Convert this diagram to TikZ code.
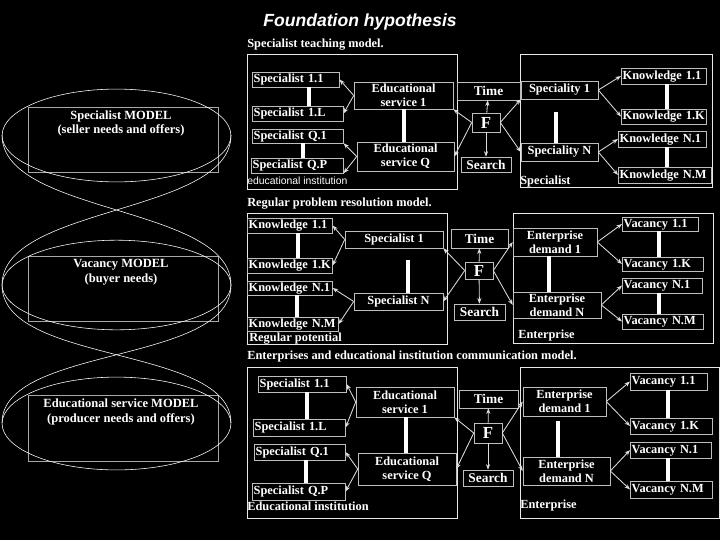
\documentclass[tikz,border=0pt]{standalone}
\usepackage{fontspec}
\setmainfont{Liberation Serif}
\newfontfamily\headfont{Liberation Sans}
\usetikzlibrary{arrows.meta}
\definecolor{boxline}{HTML}{BEBEBE}
\definecolor{frameline}{HTML}{E8E8E8}
\definecolor{modelline}{HTML}{A8A8A8}
\definecolor{arrowline}{HTML}{DDDDDD}

\begin{document}
\begin{tikzpicture}[x=0.025cm,y=-0.025cm,
  every node/.style={text=white},
  txt/.style={font=\fontsize{8.8}{10}\selectfont\bfseries},
  block/.style 2 args={draw=boxline,fill=black,txt,align=center,inner sep=0pt,
    minimum width=#1*0.025cm,minimum height=#2*0.025cm},
  leaf/.style 2 args={draw=boxline,fill=black,txt,anchor=west,align=left,
    inner xsep=1pt,inner ysep=0pt,text width=#1*0.025cm-2pt,
    text height=6.4pt,text depth=1.8pt,minimum height=#2*0.025cm},
  big/.style={font=\fontsize{9.5}{11}\selectfont\bfseries},
  hub/.style={font=\fontsize{12}{13}\selectfont\bfseries},
  head/.style={txt,anchor=west,inner sep=0pt},
  tag/.style={txt,anchor=west,inner sep=0pt},
  model/.style={font=\fontsize{8.9}{10.6}\selectfont\bfseries,align=center},
  link/.style={white,line width=2.5pt},
  arr/.style={arrowline,line width=0.6pt,-{Stealth[length=4pt,width=3pt]}}]

  \path[use as bounding box,fill=black] (0,0) rectangle (720,540);
  \node[font=\headfont\fontsize{12.5}{14}\selectfont\bfseries\itshape] (title) at (360,22) {Foundation hypothesis};

  % left: the three models
  \draw[modelline] (28,107) rectangle (218,172);
  \draw[modelline] (28,256) rectangle (218,321);
  \draw[modelline] (28,395) rectangle (218,461);
  \draw[white] (116.5,135.5) ellipse [x radius=2.86cm,y radius=1.16cm];
  \draw[white] (116.5,285) ellipse [x radius=2.86cm,y radius=1.12cm];
  \draw[white] (116.5,423.5) ellipse [x radius=2.86cm,y radius=1.16cm];
  \draw[white] (2,135) .. controls (2,215) and (231,205) .. (231,285);
  \draw[white] (231,135) .. controls (231,215) and (2,205) .. (2,285);
  \draw[white] (2,285) .. controls (2,365) and (231,345) .. (231,423);
  \draw[white] (231,285) .. controls (231,365) and (2,345) .. (2,423);
  \node[model] (m1) at (121,123.5) {Specialist MODEL\\(seller needs and offers)};
  \node[model] (m2) at (121,272.5) {Vacancy MODEL\\(buyer needs)};
  \node[model] (m3) at (121,412) {Educational service MODEL\\(producer needs and offers)};

  % specialist teaching model
  \node[head] (h1) at (247,45) {Specialist teaching model.};
  \draw[frameline] (247,54) rectangle (457,189);
  \draw[frameline] (520,54) rectangle (712,187);
  \node[leaf={87}{15}] (s11) at (252,79.5) {Specialist 1.1};
  \node[leaf={91}{15}] (s1l) at (252,113.5) {Specialist 1.L};
  \node[leaf={91}{14}] (sq1) at (252,136) {Specialist Q.1};
  \node[leaf={92}{15}] (sqp) at (251,165.5) {Specialist Q.P};
  \node[block={99}{27}] (es1) at (403.5,95.5) {Educational\\service 1};
  \node[block={97}{29}] (esq) at (405.5,156.5) {Educational\\service Q};
  \node[block={63}{18},big] (time1) at (488.5,91) {Time};
  \node[block={28}{19},hub] (f1) at (486,122.5) {F};
  \node[block={50}{15},big] (search1) at (486,164.5) {Search};
  \node[block={77}{18}] (sp1) at (559.5,90) {Speciality 1};
  \node[block={77}{18}] (spn) at (559.5,152) {Speciality N};
  \node[leaf={85}{16}] (k11) at (621,76) {Knowledge 1.1};
  \node[leaf={85}{15}] (k1k) at (621,116.5) {Knowledge 1.K};
  \node[leaf={88}{16}] (kn1) at (618,139) {Knowledge N.1};
  \node[leaf={93}{16}] (knm) at (618,175) {Knowledge N.M};
  \node[anchor=west,inner sep=0pt,font=\headfont\fontsize{7.4}{8}\selectfont] (lab1) at (247,181) {educational institution};
  \node[tag] (lab2) at (520,182) {Specialist};
  \draw[link] (309,0 |- s11.south) -- (309,0 |- s1l.north);
  \draw[link] (303,0 |- sq1.south) -- (303,0 |- sqp.north);
  \draw[link] (404,0 |- es1.south) -- (404,0 |- esq.north);
  \draw[link,shorten <=9pt] (556,0 |- sp1.south) -- (556,0 |- spn.north);
  \draw[link] (667,0 |- k11.south) -- (667,0 |- k1k.north);
  \draw[link] (667,0 |- kn1.south) -- (667,0 |- knm.north);
  \draw[arr] (es1.west) -- (s11.east);
  \draw[arr] (es1.west) -- (s1l.east);
  \draw[arr] (esq.west) -- (sq1.south east);
  \draw[arr] (esq.west) -- (sqp.south east);
  \draw[arr] (f1) -- (time1);
  \draw[arr] (f1) -- (search1);
  \draw[arr] (f1.west) -- (es1.south east);
  \draw[arr] (f1.west) -- (esq.east);
  \draw[arr] (f1.east) -- (sp1.south west);
  \draw[arr] (f1.east) -- (spn.west);
  \draw[arr] (sp1.east) -- (k11.west);
  \draw[arr] (sp1.east) -- (k1k.west);
  \draw[arr] (spn.east) -- (kn1.west);
  \draw[arr] (spn.east) -- (knm.west);

  % regular problem resolution model
  \node[head] (h2) at (247,204) {Regular problem resolution model.};
  \draw[frameline] (247,213) rectangle (447,344);
  \draw[frameline] (513,213) rectangle (713,343);
  \node[leaf={85}{15}] (kk11) at (247,225.5) {Knowledge 1.1};
  \node[leaf={85}{15}] (kk1k) at (247,265.5) {Knowledge 1.K};
  \node[leaf={85}{14}] (kkn1) at (247,288) {Knowledge N.1};
  \node[leaf={91}{14}] (kknm) at (247,324) {Knowledge N.M};
  \node[block={98}{17}] (sp21) at (394,239.5) {Specialist 1};
  \node[block={89}{17}] (sp2n) at (398.5,301.5) {Specialist N};
  \node[block={57}{19},big] (time2) at (479.5,238.5) {Time};
  \node[block={28}{17},hub] (f2) at (479,270.5) {F};
  \node[block={51}{16},big] (search2) at (479.5,312) {Search};
  \node[block={84}{28}] (ed21) at (555,242) {Enterprise\\demand 1};
  \node[block={88}{26}] (ed2n) at (557,305) {Enterprise\\demand N};
  \node[leaf={76}{14}] (v11) at (622,224) {Vacancy 1.1};
  \node[leaf={81}{14}] (v1k) at (622,264) {Vacancy 1.K};
  \node[leaf={80}{15}] (vn1) at (622,285.5) {Vacancy N.1};
  \node[leaf={81}{15}] (vnm) at (622,321.5) {Vacancy N.M};
  \node[tag] (lab3) at (249,339) {Regular potential};
  \node[tag] (lab4) at (518,336) {Enterprise};
  \draw[link] (298,0 |- kk11.south) -- (298,0 |- kk1k.north);
  \draw[link] (297,0 |- kkn1.south) -- (297,0 |- kknm.north);
  \draw[link,shorten <=8.5pt] (408,0 |- sp21.south) -- (408,0 |- sp2n.north);
  \draw[link] (549,0 |- ed21.south) -- (549,0 |- ed2n.north);
  \draw[link] (659,0 |- v11.south) -- (659,0 |- v1k.north);
  \draw[link] (659,0 |- vn1.south) -- (659,0 |- vnm.north);
  \draw[arr] (sp21.west) -- (kk11.east);
  \draw[arr] (sp21.west) -- (kk1k.east);
  \draw[arr] (sp2n.west) -- (kkn1.east);
  \draw[arr] (sp2n.west) -- (kknm.east);
  \draw[arr] (f2) -- (time2);
  \draw[arr] (f2) -- (search2);
  \draw[arr] (f2.west) -- (sp21.south east);
  \draw[arr] (f2.west) -- (sp2n.east);
  \draw[arr] (f2.east) -- (ed21.west);
  \draw[arr] (f2.east) -- (ed2n.west);
  \draw[arr] (ed21.east) -- (v11.west);
  \draw[arr] (ed21.east) -- (v1k.west);
  \draw[arr] (ed2n.east) -- (vn1.west);
  \draw[arr] (ed2n.east) -- (vnm.west);

  % communication model
  \node[head] (h3) at (247,357) {Enterprises and educational institution communication model.};
  \draw[frameline] (247,367) rectangle (457,518);
  \draw[frameline] (520,367) rectangle (719,518);
  \node[leaf={88}{16}] (s311) at (258,384) {Specialist 1.1};
  \node[leaf={92}{17}] (s31l) at (253,427.5) {Specialist 1.L};
  \node[leaf={91}{16}] (s3q1) at (254,452) {Specialist Q.1};
  \node[leaf={93}{17}] (s3qp) at (252,491.5) {Specialist Q.P};
  \node[block={98}{30}] (es31) at (405,402) {Educational\\service 1};
  \node[block={98}{32}] (es3q) at (407,469) {Educational\\service Q};
  \node[block={59}{18},big] (time3) at (488.5,399) {Time};
  \node[block={28}{20},hub] (f3) at (488,433) {F};
  \node[block={50}{16},big] (search3) at (488,478) {Search};
  \node[block={83}{29}] (ed31) at (564.5,401.5) {Enterprise\\demand 1};
  \node[block={87}{28}] (ed3n) at (566.5,471) {Enterprise\\demand N};
  \node[leaf={77}{17}] (v311) at (630,381.5) {Vacancy 1.1};
  \node[leaf={82}{16}] (v31k) at (630,426) {Vacancy 1.K};
  \node[leaf={81}{16}] (v3n1) at (630,450) {Vacancy N.1};
  \node[leaf={82}{17}] (v3nm) at (630,489.5) {Vacancy N.M};
  \node[tag] (lab5) at (247,506) {Educational institution};
  \node[tag] (lab6) at (520,506) {Enterprise};
  \draw[link] (307,0 |- s311.south) -- (307,0 |- s31l.north);
  \draw[link] (306,0 |- s3q1.south) -- (306,0 |- s3qp.north);
  \draw[link] (406,0 |- es31.south) -- (406,0 |- es3q.north);
  \draw[link,shorten <=3.5pt] (558,0 |- ed31.south) -- (558,0 |- ed3n.north);
  \draw[link] (668,0 |- v311.south) -- (668,0 |- v31k.north);
  \draw[link] (668,0 |- v3n1.south) -- (668,0 |- v3nm.north);
  \draw[arr] (es31.west) -- (s311.east);
  \draw[arr] (es31.west) -- (s31l.east);
  \draw[arr] (es3q.west) -- (s3q1.east);
  \draw[arr] (es3q.west) -- (s3qp.east);
  \draw[arr] (f3) -- (time3);
  \draw[arr] (f3) -- (search3);
  \draw[arr] (f3.west) -- (es31.south east);
  \draw[arr] (f3.west) -- (es3q.east);
  \draw[arr] (f3.east) -- (ed31.west);
  \draw[arr] (f3.east) -- (ed3n.west);
  \draw[arr] (ed31.east) -- (v311.west);
  \draw[arr] (ed31.east) -- (v31k.west);
  \draw[arr] (ed3n.east) -- (v3n1.west);
  \draw[arr] (ed3n.east) -- (v3nm.west);
\end{tikzpicture}
\end{document}
